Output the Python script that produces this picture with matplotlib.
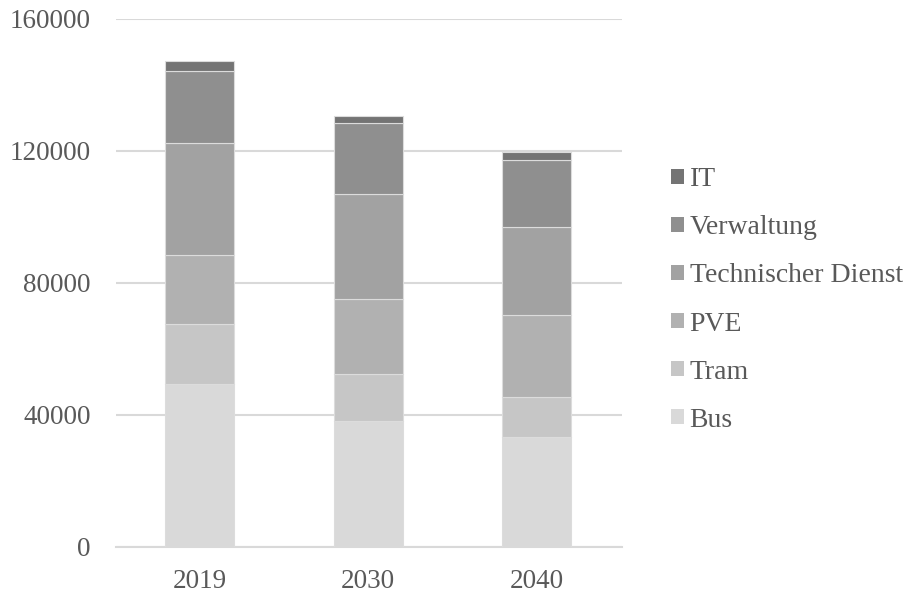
import matplotlib
matplotlib.use("Agg")
import matplotlib.pyplot as plt
from matplotlib.patches import Patch

years = ["2019", "2030", "2040"]
series = ["Bus", "Tram", "PVE", "Technischer Dienst", "Verwaltung", "IT"]
bus = [49400, 38300, 33400]
tram = [18300, 14200, 12000]
pve = [20900, 22700, 24900]
tech = [33900, 31800, 26800]
verw = [21800, 21400, 20200]
it = [3100, 2300, 2500]
values = [bus, tram, pve, tech, verw, it]
colors = ["#d9d9d9", "#c6c6c6", "#b1b1b1", "#a2a2a2", "#8f8f8f", "#747474"]

plt.rcParams['font.family'] = ['Liberation Serif', 'DejaVu Serif']
txt = "#595959"

fig = plt.figure(figsize=(9.09, 5.92), dpi=100)
ax = fig.add_axes([116/909, 1 - 547/592, (622-116)/909, (547-19)/592])

x = list(range(len(years)))
bottom = [0, 0, 0]
for name, vals, c in zip(series, values, colors):
    ax.bar(x, vals, width=0.41, bottom=bottom, color=c, edgecolor="#dcdcdc",
           linewidth=0.8, label=name, zorder=3)
    bottom = [b + v for b, v in zip(bottom, vals)]

ax.set_xlim(-0.495, 2.505)
ax.set_ylim(0, 160000)
ax.set_yticks([0, 40000, 80000, 120000, 160000])
ax.set_yticklabels(["0", "40000", "80000", "120000", "160000"])
ax.set_xticks(x)
ax.set_xticklabels(years)
ax.yaxis.grid(True, color="#d9d9d9", linewidth=1.5, zorder=0)
ax.set_axisbelow(True)
for s in ["top", "right", "left"]:
    ax.spines[s].set_visible(False)
ax.spines["bottom"].set_color("#d9d9d9")
ax.spines["bottom"].set_linewidth(1.5)
ax.tick_params(axis="both", length=0, labelsize=19.5, colors=txt)
ax.tick_params(axis="y", pad=18)
ax.tick_params(axis="x", pad=15.5)

handles = [Patch(facecolor=c, edgecolor="none", label=n) for n, c in zip(series, colors)][::-1]
leg = fig.legend(handles=handles, loc="center left", bbox_to_anchor=(671/909, 1 - 300/592),
                 frameon=False, fontsize=20, handlelength=0.45, handleheight=0.45,
                 handletextpad=0.22, labelspacing=0.83, borderaxespad=0, borderpad=0)
for t in leg.get_texts():
    t.set_color(txt)

fig.savefig("out.png", dpi=100)
